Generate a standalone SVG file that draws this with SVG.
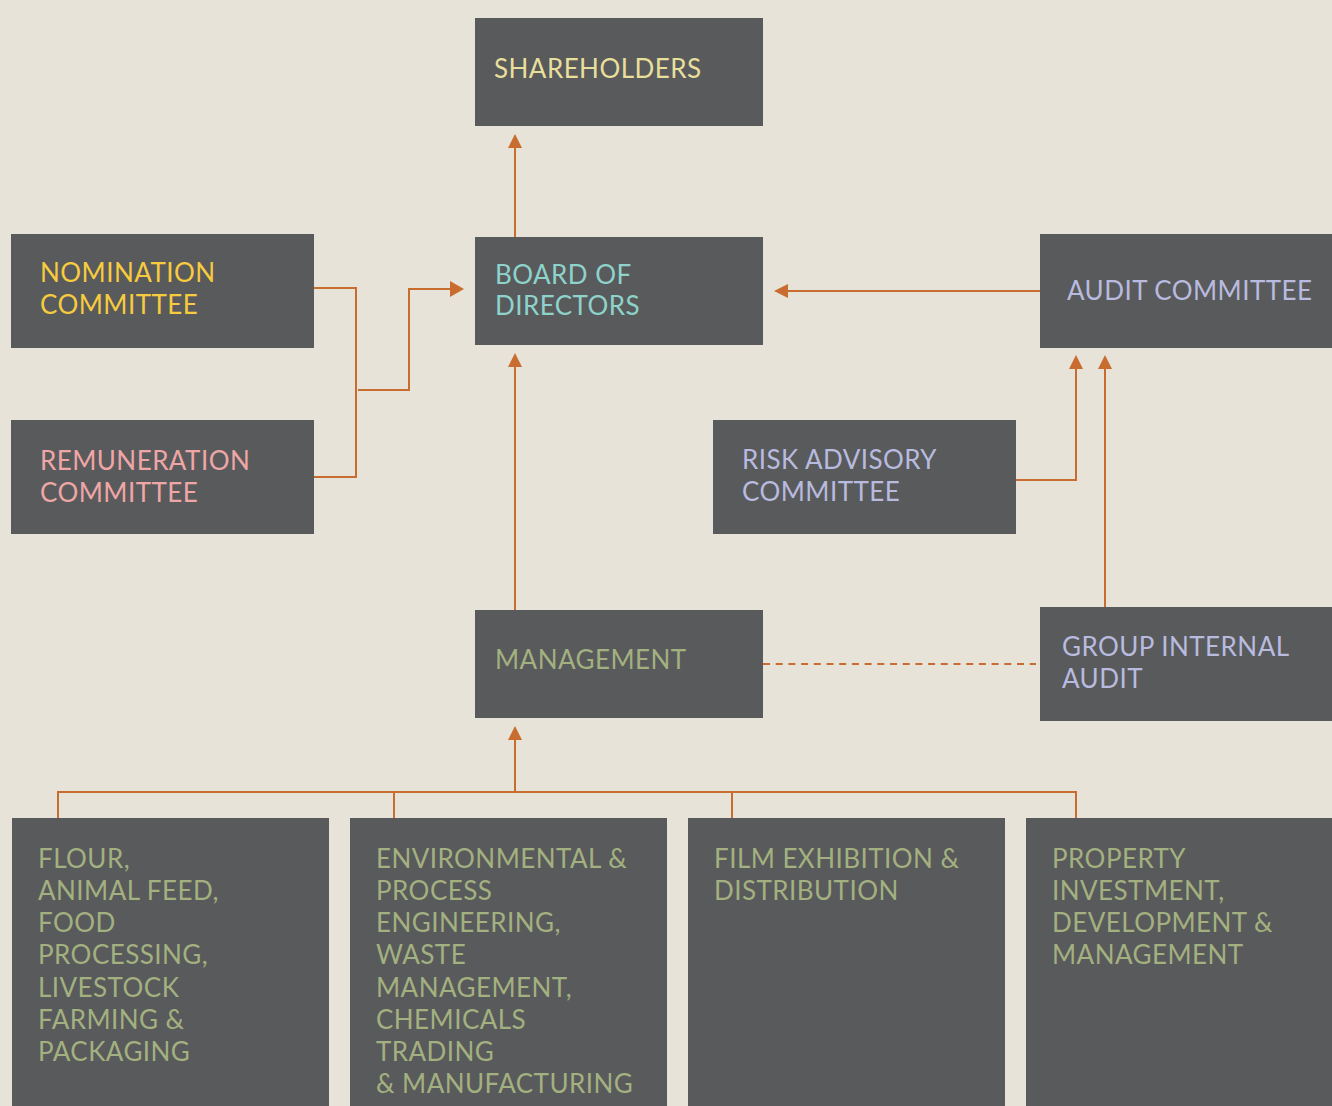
<svg xmlns="http://www.w3.org/2000/svg" width="1332" height="1106" viewBox="0 0 1332 1106">
<defs>
<style>
.box{fill:#595A5C}
.t{font-family:Lato,"Liberation Sans",sans-serif;font-size:26px;letter-spacing:0.45px}
.c{fill:none;stroke:#C96C30;stroke-width:2}
.d{fill:none;stroke:#C96C30;stroke-width:2;stroke-dasharray:7 5.7}
.ah{fill:#C96C30}
.sh{fill:#E8DF9B}
.bd{fill:#8ED3CB}
.nm{fill:#F7CB3E}
.rm{fill:#EFA6A6}
.lv{fill:#B8BADF}
.gr{fill:#A3B07F}
</style>
</defs>
<rect width="1332" height="1106" fill="#E7E3D9"/>
<g id="connectors">
<path class="c" d="M515 237V146"/>
<polygon class="ah" points="515,134 522,148 508,148"/>
<path class="c" d="M314 288H356V477H314"/>
<path class="c" d="M358 390H409V289H452"/>
<polygon class="ah" points="464,289 450,281 450,297"/>
<path class="c" d="M1040 291H786"/>
<polygon class="ah" points="774,291 788,284 788,298"/>
<path class="c" d="M515 610V365"/>
<polygon class="ah" points="515,353 522,367 508,367"/>
<path class="c" d="M1016 480H1076V367"/>
<polygon class="ah" points="1076,355 1083,369 1069,369"/>
<path class="c" d="M1105 607V367"/>
<polygon class="ah" points="1105,355 1112,369 1098,369"/>
<path class="d" d="M763 664H1036"/>
<path class="c" d="M58 818V792H1076V818M394 818V792M732 818V792M515 792V738"/>
<polygon class="ah" points="515,726 522,740 508,740"/>
</g>
<g id="shareholders"><rect class="box" x="475" y="18" width="288" height="108"/><text class="t sh" x="494" y="78">SHAREHOLDERS</text></g>
<g id="board"><rect class="box" x="475" y="237" width="288" height="108"/><text class="t bd" x="495" y="284">BOARD OF</text><text class="t bd" x="495" y="315">DIRECTORS</text></g>
<g id="nomination"><rect class="box" x="11" y="234" width="303" height="114"/><text class="t nm" x="40" y="282">NOMINATION</text><text class="t nm" x="40" y="314">COMMITTEE</text></g>
<g id="remuneration"><rect class="box" x="11" y="420" width="303" height="114"/><text class="t rm" x="40" y="470">REMUNERATION</text><text class="t rm" x="40" y="502">COMMITTEE</text></g>
<g id="audit"><rect class="box" x="1040" y="234" width="292" height="114"/><text class="t lv" x="1067" y="300">AUDIT COMMITTEE</text></g>
<g id="risk"><rect class="box" x="713" y="420" width="303" height="114"/><text class="t lv" x="742" y="469">RISK ADVISORY</text><text class="t lv" x="742" y="501">COMMITTEE</text></g>
<g id="management"><rect class="box" x="475" y="610" width="288" height="108"/><text class="t gr" x="495" y="669">MANAGEMENT</text></g>
<g id="gia"><rect class="box" x="1040" y="607" width="292" height="114"/><text class="t lv" x="1062" y="656">GROUP INTERNAL</text><text class="t lv" x="1062" y="688">AUDIT</text></g>
<g id="flour"><rect class="box" x="12" y="818" width="317" height="288"/>
<text class="t gr" x="38" y="868">FLOUR,</text><text class="t gr" x="38" y="900">ANIMAL FEED,</text><text class="t gr" x="38" y="932">FOOD</text><text class="t gr" x="38" y="964">PROCESSING,</text><text class="t gr" x="38" y="997">LIVESTOCK</text><text class="t gr" x="38" y="1029">FARMING &amp;</text><text class="t gr" x="38" y="1061">PACKAGING</text></g>
<g id="environmental"><rect class="box" x="350" y="818" width="317" height="288"/>
<text class="t gr" x="376" y="868">ENVIRONMENTAL &amp;</text><text class="t gr" x="376" y="900">PROCESS</text><text class="t gr" x="376" y="932">ENGINEERING,</text><text class="t gr" x="376" y="964">WASTE</text><text class="t gr" x="376" y="997">MANAGEMENT,</text><text class="t gr" x="376" y="1029">CHEMICALS</text><text class="t gr" x="376" y="1061">TRADING</text><text class="t gr" x="376" y="1093">&amp; MANUFACTURING</text></g>
<g id="film"><rect class="box" x="688" y="818" width="317" height="288"/>
<text class="t gr" x="714" y="868">FILM EXHIBITION &amp;</text><text class="t gr" x="714" y="900">DISTRIBUTION</text></g>
<g id="property"><rect class="box" x="1026" y="818" width="306" height="288"/>
<text class="t gr" x="1052" y="868">PROPERTY</text><text class="t gr" x="1052" y="900">INVESTMENT,</text><text class="t gr" x="1052" y="932">DEVELOPMENT &amp;</text><text class="t gr" x="1052" y="964">MANAGEMENT</text></g>
</svg>
